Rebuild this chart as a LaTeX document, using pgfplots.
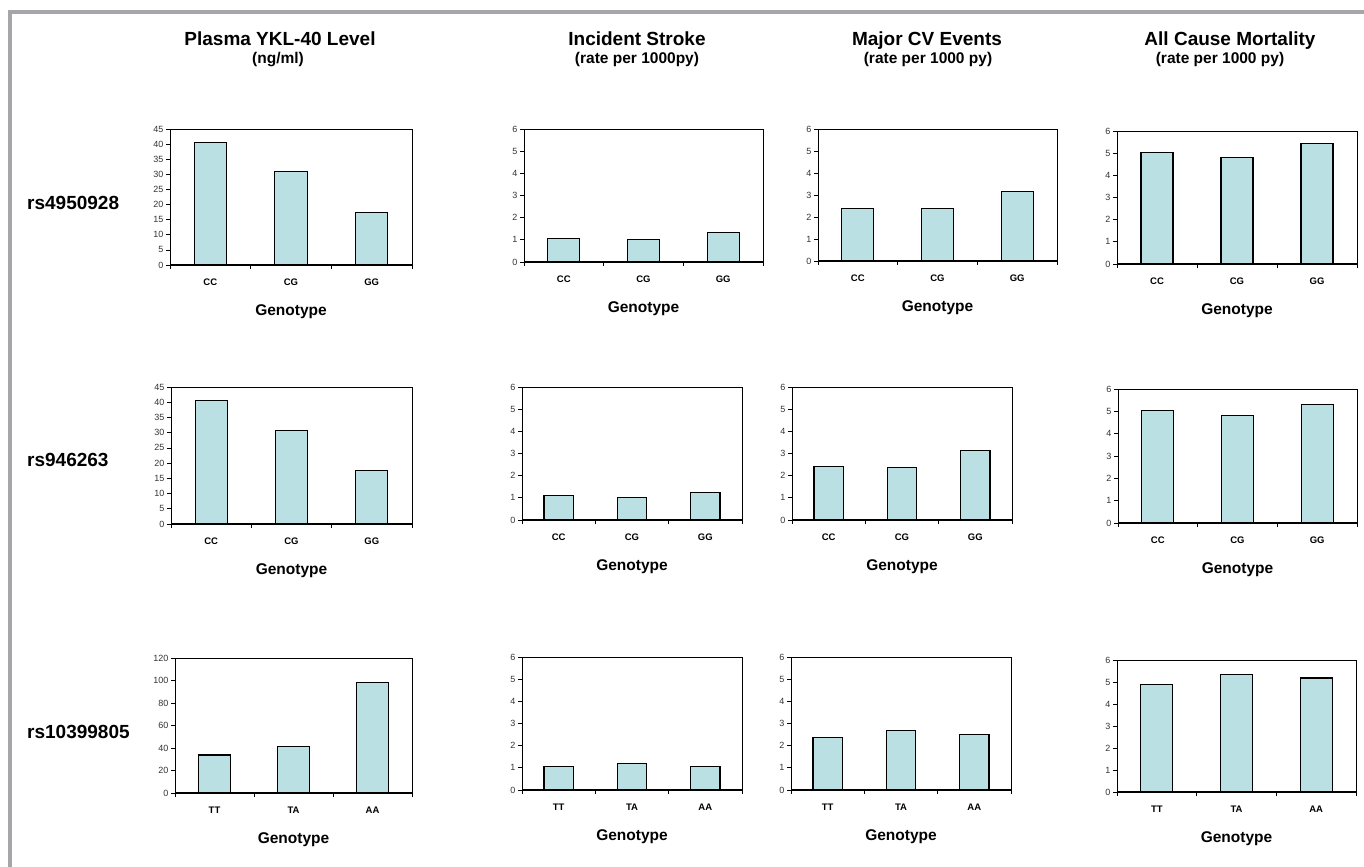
\documentclass[border=0pt]{standalone}
\usepackage{pgfplots}
\pgfplotsset{compat=1.18}
\usepackage{fontspec}
\setmainfont{Liberation Sans}
\definecolor{barfill}{RGB}{187,224,227}
\definecolor{frame}{RGB}{165,165,170}
\pgfplotsset{
  panel/.style={
    scale only axis, anchor=south west, clip=false,
    xmin=-0.5, xmax=2.5, ymin=0,
    xtick={-0.5,0.5,1.5,2.5},
    x tick label as interval,
    ytick pos=left, xtick pos=bottom,
    tick align=outside, major tick length=4bp,
    tick style={black, line width=0.7bp},
    y tick label style={font=\fontsize{9bp}{10bp}\selectfont, text=black!80, xshift=1bp},
    x tick label style={font=\bfseries\fontsize{9.5bp}{10bp}\selectfont, yshift=-6.5bp},
    axis line style={black, line width=0.9bp},
    ybar, bar width=0.4,
    /pgf/number format/assume math mode=true,
    xlabel={Genotype},
    xlabel style={at={(axis description cs:0.5,0)}, anchor=center, yshift=-47bp, font=\bfseries\fontsize{15.5bp}{18bp}\selectfont},
  },
  barplot/.style={fill=barfill, draw=black, line width=1.1bp},
  ysmall/.style={ymax=6, ytick={0,1,2,3,4,5,6}},
}
\newcommand{\bottomline}{\draw[black, line width=1.6bp] (rel axis cs:0,0) -- (rel axis cs:1,0);}
\begin{document}
\begin{tikzpicture}
\path[use as bounding box] (0,0) rectangle (1364bp,867bp);
\fill[white] (0,0) rectangle (1364bp,867bp);
% frame
\fill[frame] (8bp,853bp) rectangle (1364bp,857bp);
\fill[frame] (8bp,0bp) rectangle (12bp,857bp);
% column titles
\begin{scope}[every node/.style={anchor=base, inner sep=0pt}]
\node[font=\bfseries\fontsize{19bp}{22bp}\selectfont] at (280bp,821bp) {Plasma YKL-40 Level};
\node[font=\bfseries\fontsize{15.5bp}{18bp}\selectfont] at (278bp,803bp) {(ng/ml)};
\node[font=\bfseries\fontsize{19bp}{22bp}\selectfont] at (637bp,821bp) {Incident Stroke};
\node[font=\bfseries\fontsize{15.5bp}{18bp}\selectfont] at (637bp,803bp) {(rate per 1000py)};
\node[font=\bfseries\fontsize{19bp}{22bp}\selectfont] at (927bp,821bp) {Major CV Events};
\node[font=\bfseries\fontsize{15.5bp}{18bp}\selectfont] at (928bp,803bp) {(rate per 1000 py)};
\node[font=\bfseries\fontsize{19bp}{22bp}\selectfont] at (1230bp,821bp) {All Cause Mortality};
\node[font=\bfseries\fontsize{15.5bp}{18bp}\selectfont] at (1220bp,803bp) {(rate per 1000 py)};
\end{scope}
% row labels
\begin{scope}[every node/.style={anchor=base west, inner sep=0pt, font=\bfseries\fontsize{19bp}{22bp}\selectfont}]
\node at (27bp,657bp) {rs4950928};
\node at (27bp,400bp) {rs946263};
\node at (27bp,128bp) {rs10399805};
\end{scope}

% ---------- Row 1 ----------
\begin{axis}[panel, at={(170bp,602bp)}, width=242bp, height=136bp,
  ymax=45, ytick={0,5,10,15,20,25,30,35,40,45}, xticklabels={CC,CG,GG}]
\addplot[barplot] coordinates {(0,40.4) (1,31.0) (2,17.4)};
\bottomline
\end{axis}
\begin{axis}[panel, ysmall, at={(524bp,605bp)}, width=239bp, height=133bp, xticklabels={CC,CG,GG}]
\addplot[barplot] coordinates {(0,1.08) (1,1.01) (2,1.33)};
\bottomline
\end{axis}
\begin{axis}[panel, ysmall, at={(818bp,606bp)}, width=239bp, height=132bp, xticklabels={CC,CG,GG}]
\addplot[barplot] coordinates {(0,2.40) (1,2.38) (2,3.17)};
\bottomline
\end{axis}
\begin{axis}[panel, ysmall, at={(1117bp,603bp)}, width=240bp, height=133bp, xticklabels={CC,CG,GG}]
\addplot[barplot] coordinates {(0,5.05) (1,4.82) (2,5.44)};
\bottomline
\end{axis}

% ---------- Row 2 ----------
\begin{axis}[panel, at={(171bp,343bp)}, width=241bp, height=137bp,
  ymax=45, ytick={0,5,10,15,20,25,30,35,40,45}, xticklabels={CC,CG,GG}]
\addplot[barplot] coordinates {(0,40.6) (1,30.8) (2,17.7)};
\bottomline
\end{axis}
\begin{axis}[panel, ysmall, at={(522bp,347bp)}, width=220bp, height=133bp, xticklabels={CC,CG,GG}]
\addplot[barplot] coordinates {(0,1.10) (1,1.01) (2,1.25)};
\bottomline
\end{axis}
\begin{axis}[panel, ysmall, at={(792bp,347bp)}, width=220bp, height=133bp, xticklabels={CC,CG,GG}]
\addplot[barplot] coordinates {(0,2.43) (1,2.35) (2,3.15)};
\bottomline
\end{axis}
\begin{axis}[panel, ysmall, at={(1118bp,344bp)}, width=239bp, height=134bp, xticklabels={CC,CG,GG}]
\addplot[barplot] coordinates {(0,5.04) (1,4.82) (2,5.31)};
\bottomline
\end{axis}

% ---------- Row 3 ----------
\begin{axis}[panel, at={(175bp,74bp)}, width=237bp, height=135bp,
  ymax=120, ytick={0,20,40,60,80,100,120}, xticklabels={TT,TA,AA}]
\addplot[barplot] coordinates {(0,33.8) (1,41.2) (2,98.1)};
\bottomline
\end{axis}
\begin{axis}[panel, ysmall, at={(522bp,77bp)}, width=220bp, height=133bp, xticklabels={TT,TA,AA}]
\addplot[barplot] coordinates {(0,1.04) (1,1.19) (2,1.07)};
\bottomline
\end{axis}
\begin{axis}[panel, ysmall, at={(791bp,77bp)}, width=220bp, height=133bp, xticklabels={TT,TA,AA}]
\addplot[barplot] coordinates {(0,2.35) (1,2.68) (2,2.52)};
\bottomline
\end{axis}
\begin{axis}[panel, ysmall, at={(1117bp,75bp)}, width=239bp, height=132bp, xticklabels={TT,TA,AA}]
\addplot[barplot] coordinates {(0,4.88) (1,5.36) (2,5.18)};
\bottomline
\end{axis}
\end{tikzpicture}
\end{document}
